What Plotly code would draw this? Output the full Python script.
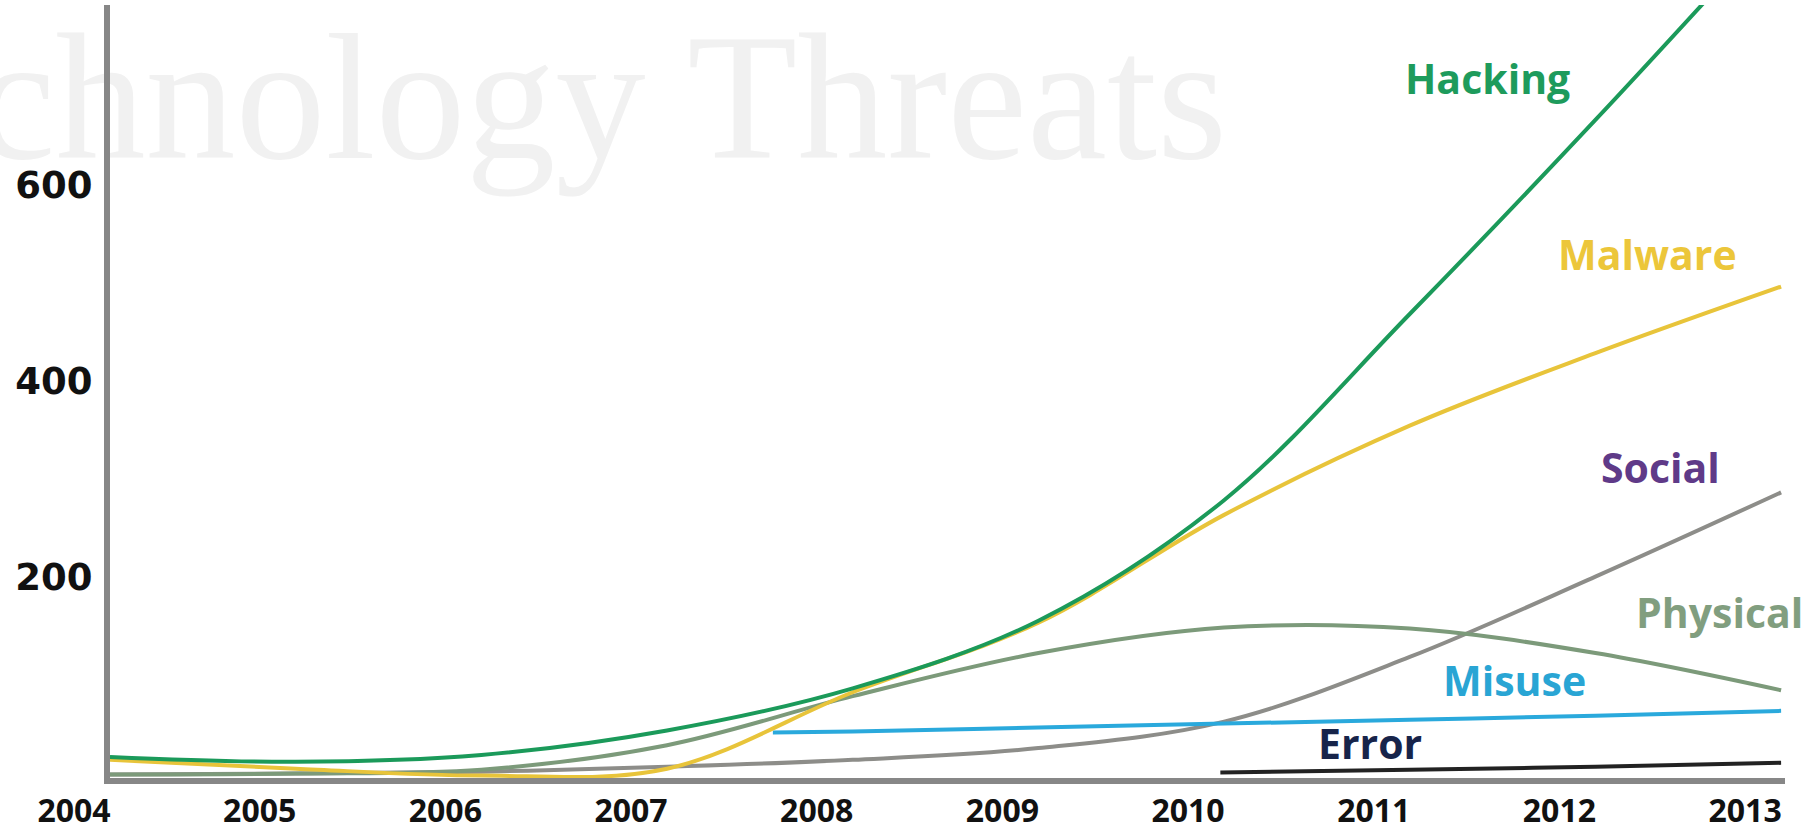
import plotly.graph_objects as go

# ---------------- data ----------------
years = [2004, 2005, 2006, 2007, 2008, 2009, 2010, 2011, 2012, 2013]
hacking = [16, 11, 18, 43, 86, 155, 278, 468, 666, 872]
malware = [13, 4, -3, 4, 82, 153, 263, 354, 428, 496]
physical = [-2, -1, 3, 28, 78, 122, 148, 147, 122, 84]
social = [-2, -1, 1, 6, 13, 25, 52, 118, 200, 286]

misuse_years = [2007.57, 2008, 2009, 2010, 2011, 2012, 2013]
misuse = [41, 42, 46, 50, 54, 58, 63]

error_years = [2009.98, 2011, 2012, 2013]
error = [0, 3, 6, 10]

y_tick_vals = [200, 400, 600]
y_tick_text = ["200", "400", "600"]
x_tick_text = [str(y) for y in years]

label_names = ["Hacking", "Malware", "Social", "Physical", "Misuse", "Error"]
label_x = [2011.42, 2012.283, 2012.35, 2012.666, 2011.565, 2010.785]
label_y = [709, 529, 312, 164, 95, 30]
label_colors = ["#1e9b5c", "#ecc63a", "#5f3a88", "#819e7f", "#29a5d4", "#17244a"]

watermark = "Technology Threats"

# ---------------- figure ----------------
fig = go.Figure()

# watermark (drawn first, under lines and axis lines)
fig.add_trace(go.Scatter(
    x=[2010.016], y=[673], mode="text", text=[watermark],
    textposition="middle left",
    textfont=dict(family="Liberation Serif", size=180, color="#f1f1f1"),
    cliponaxis=False, hoverinfo="skip", showlegend=False,
))

W = 4
series = [
    (years, social, "#8d8d89"),
    (years, physical, "#7c9a7a"),
    (misuse_years, misuse, "#2aa9dc"),
    (error_years, error, "#222222"),
    (years, malware, "#e8c43a"),
    (years, hacking, "#1b9a5a"),
]
for xs, ys, col in series:
    fig.add_trace(go.Scatter(
        x=xs, y=ys, mode="lines",
        line=dict(color=col, width=W, shape="spline", smoothing=1.0),
        hoverinfo="skip", showlegend=False,
    ))

for name, lx, ly, lc in zip(label_names, label_x, label_y, label_colors):
    fig.add_annotation(
        x=lx, y=ly, xref="x", yref="y", text=name, showarrow=False,
        font=dict(family="Open Sans", size=41, color=lc, weight="bold"),
        xanchor="center", yanchor="middle",
    )

fig.update_layout(
    width=1808, height=830,
    margin=dict(l=110, r=23, t=5, b=52, autoexpand=False),
    paper_bgcolor="white", plot_bgcolor="white",
    showlegend=False,
    xaxis=dict(
        range=[2004, 2013.021],
        tickvals=years, ticktext=x_tick_text,
        showgrid=False, zeroline=False, automargin=False,
        showline=True, linecolor="#878787", linewidth=6,
        ticks="", ticklabelshift=-36, ticklabelstandoff=0,
        tickfont=dict(family="Open Sans", size=32, color="#111111", weight="bold"),
    ),
    yaxis=dict(
        range=[-5.5, 783.3],
        tickvals=y_tick_vals, ticktext=y_tick_text,
        showgrid=False, zeroline=False, automargin=False,
        showline=True, linecolor="#878787", linewidth=6,
        ticks="", ticklabelstandoff=4,
        tickfont=dict(family="DejaVu Sans", size=37, color="#111111", weight="bold"),
    ),
)

fig.write_html("out.html")
